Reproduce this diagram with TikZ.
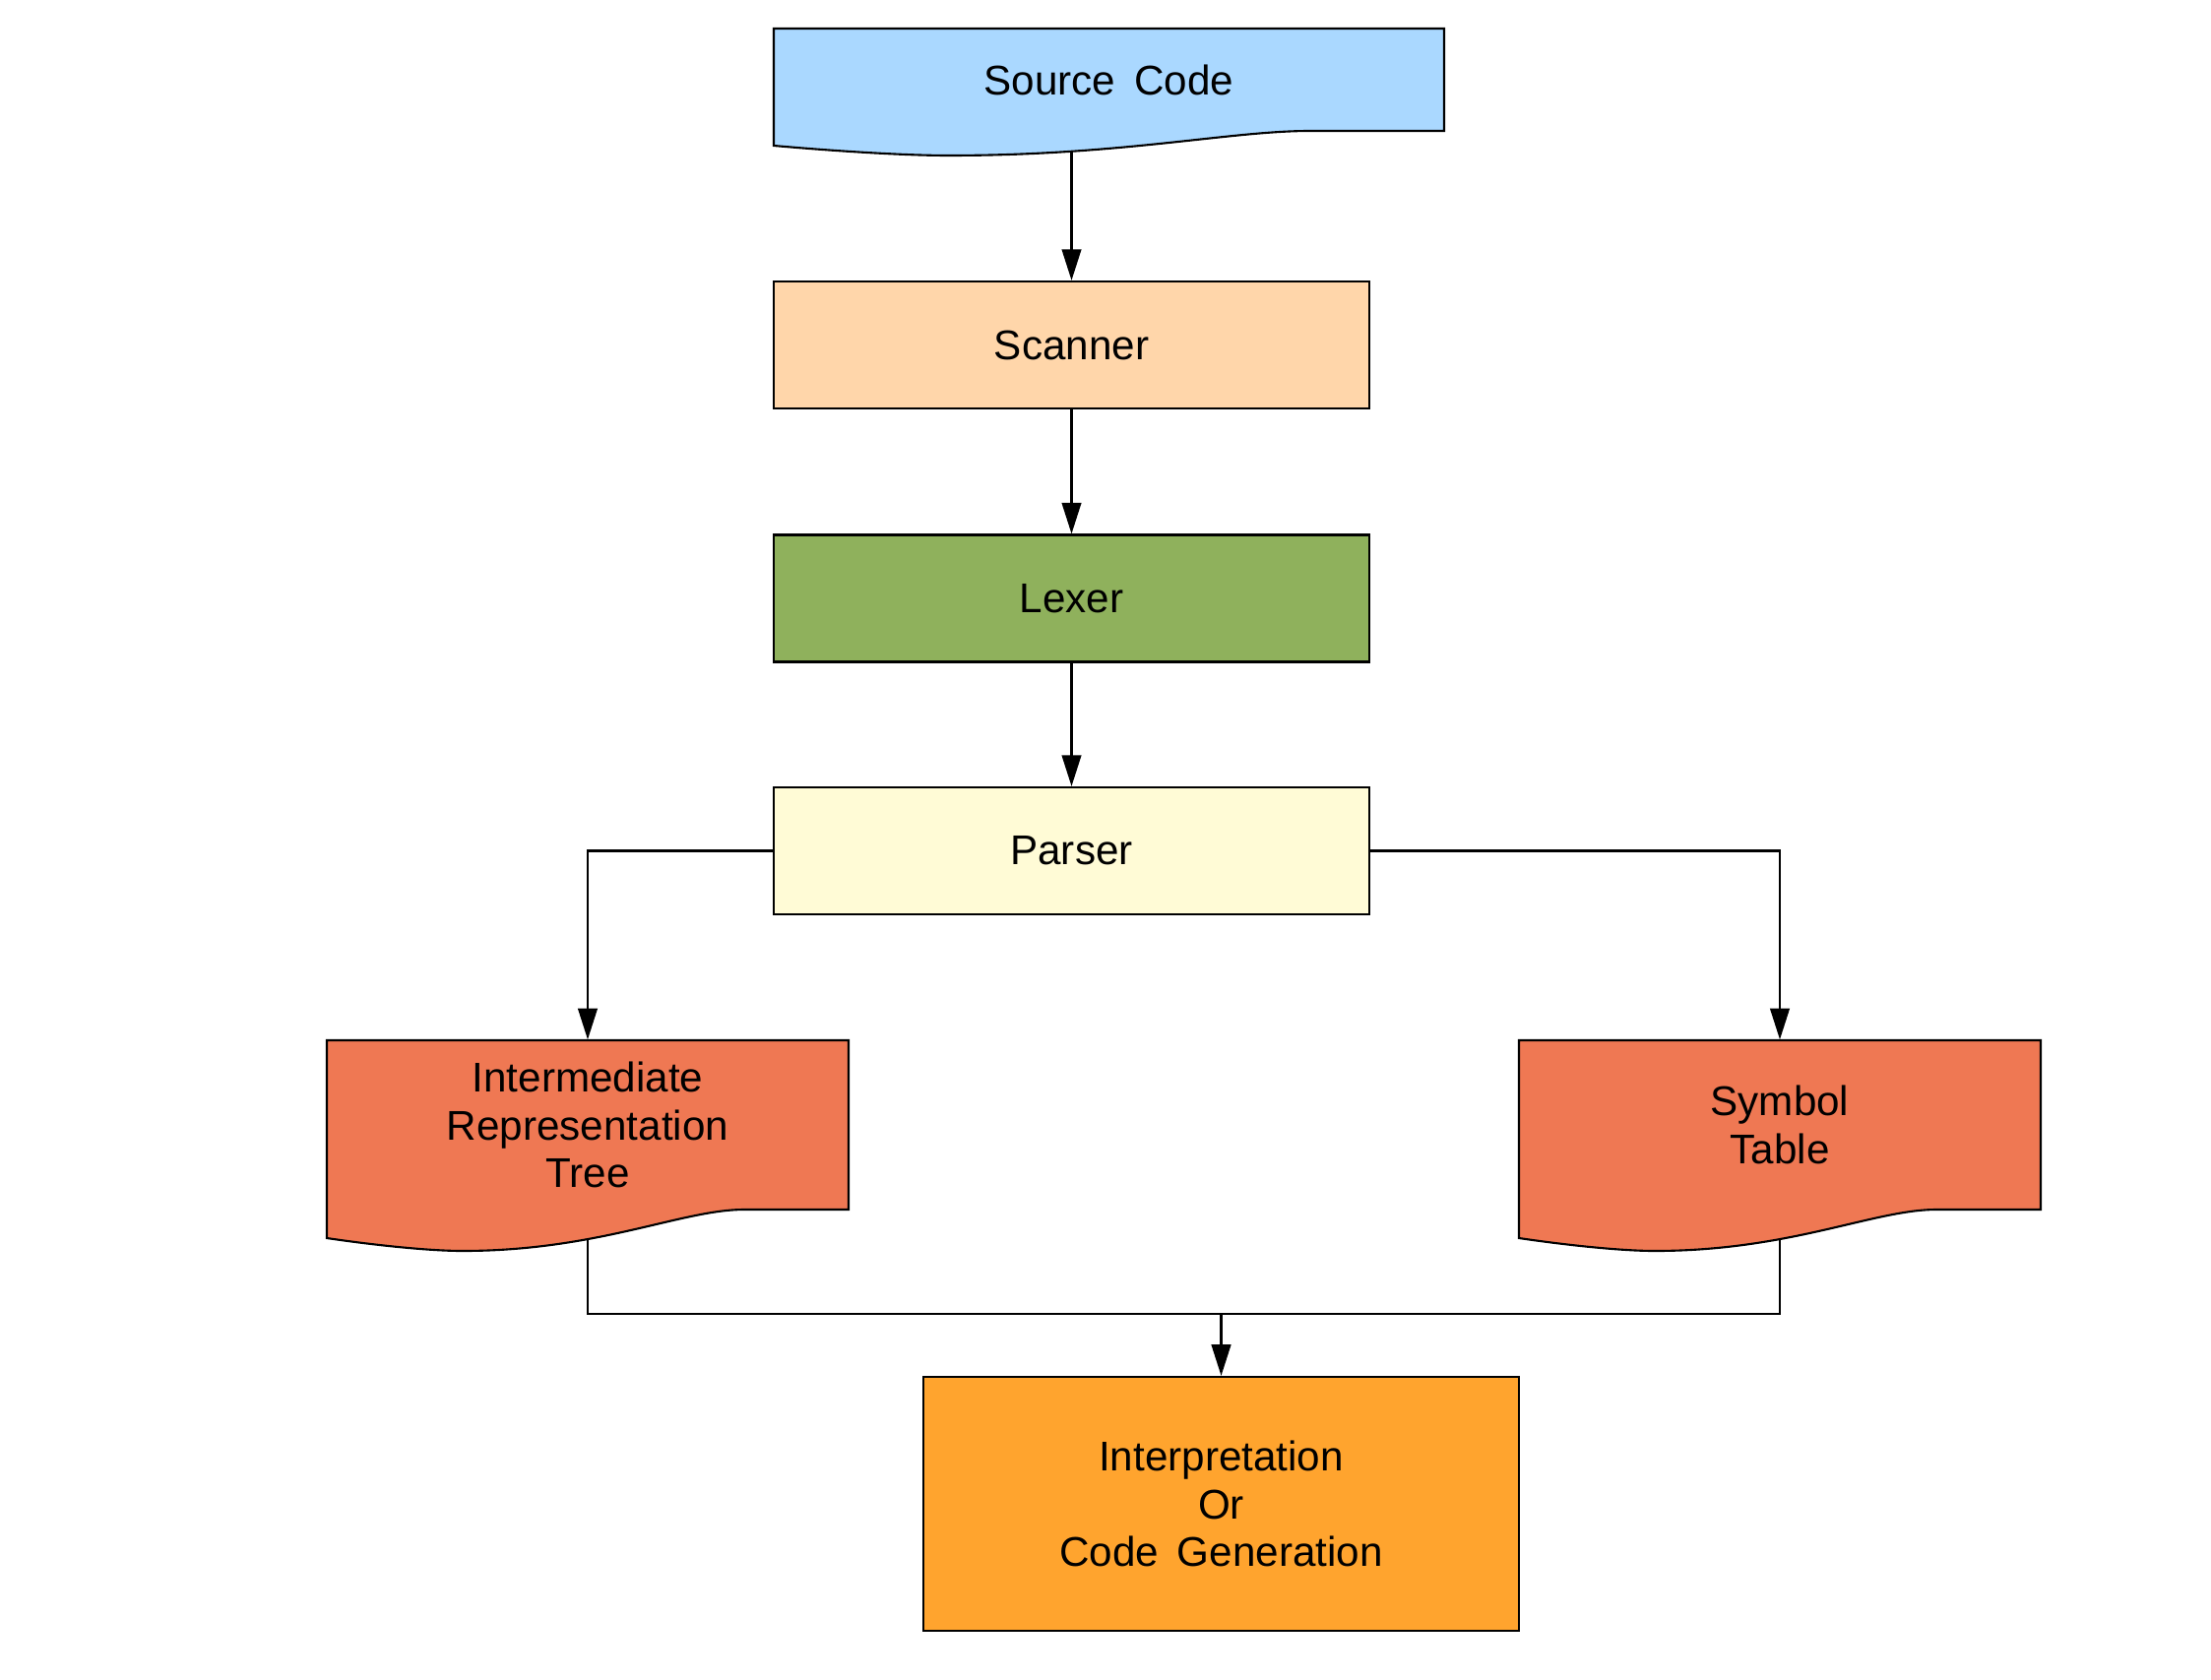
\documentclass[tikz,border=0pt]{standalone}
\usepackage{fontspec}
\setmainfont{Liberation Sans}
\usetikzlibrary{arrows.meta}
\definecolor{srcblue}{RGB}{170,216,255}
\definecolor{scanpeach}{RGB}{255,214,170}
\definecolor{lexgreen}{RGB}{143,177,92}
\definecolor{parseyellow}{RGB}{255,251,214}
\definecolor{docred}{RGB}{239,120,83}
\definecolor{interporange}{RGB}{255,164,46}
\newcommand\mydocshape[7]{%
  \draw[docline, fill=#1] (#2,#4) -- ({#2+#3},#4) -- ({#2+#3},#7) -- ({#2+0.8*#3},#7)
    .. controls ({#2+0.68*#3},#7) and ({#2+0.52*#3},#6) .. ({#2+0.26*#3},#6)
    .. controls ({#2+0.2*#3},#6) and ({#2+0.1*#3},{#5+0.6*(#6-#5)}) .. (#2,#5) -- cycle;}
\newcommand\wsp{\hspace{0.45em}}
\begin{document}
\begin{tikzpicture}[x=0.01cm,y=-0.01cm,
  docline/.style={draw=black, line width=0.6pt},
  box/.style={draw=black, line width=0.6pt, inner sep=0pt, minimum width=6.05cm, minimum height=1.29cm, font=\fontsize{12}{13.8}\selectfont, align=center},
  lbl/.style={inner sep=0pt, font=\fontsize{12}{13.8}\selectfont, align=center},
  wire/.style={draw=black, line width=0.6pt},
  conn/.style={draw=black, line width=0.6pt, -{Triangle[length=9pt,width=5.6pt]}}]
\useasboundingbox (0,0) rectangle (2246,1706);
% Source Code document
\mydocshape{srcblue}{786}{681}{29}{148}{158}{133}
\node[lbl, minimum width=6.81cm, minimum height=1.04cm] (src) at (1126.5,81) {Source\wsp Code};
\coordinate (srcb) at (1088.5,155);
% boxes
\node[box, fill=scanpeach] (scan) at (1088.5,350.5) {Scanner};
\node[box, fill=lexgreen] (lex) at (1088.5,608) {Lexer};
\node[box, fill=parseyellow] (parse) at (1088.5,864.5) {Parser};
% documents
\mydocshape{docred}{332}{530}{1057}{1258}{1271}{1229}
\node[lbl, minimum width=5.3cm, minimum height=1.72cm] (ir) at (597,1143) {Intermediate\\Representation\\Tree};
\coordinate (irb) at (597,1259);
\mydocshape{docred}{1543}{530}{1057}{1258}{1271}{1229}
\node[lbl, minimum width=5.3cm, minimum height=1.72cm] (st) at (1808,1143) {Symbol\\Table};
\coordinate (stb) at (1808,1259);
% final box
\node[box, fill=interporange, minimum height=2.58cm] (interp) at (1240.5,1528) {Interpretation\\Or\\Code\wsp Generation};
\coordinate (bus) at (1240.5,1335);
% connectors
\draw[conn] (srcb) -- (scan.north);
\draw[conn] (scan) -- (lex);
\draw[conn] (lex) -- (parse);
\draw[conn] (parse.west) -| (ir.north);
\draw[conn] (parse.east) -| (st.north);
\draw[wire] (irb) |- (bus) -| (stb);
\draw[conn] (bus) -- (interp.north);
\end{tikzpicture}
\end{document}
